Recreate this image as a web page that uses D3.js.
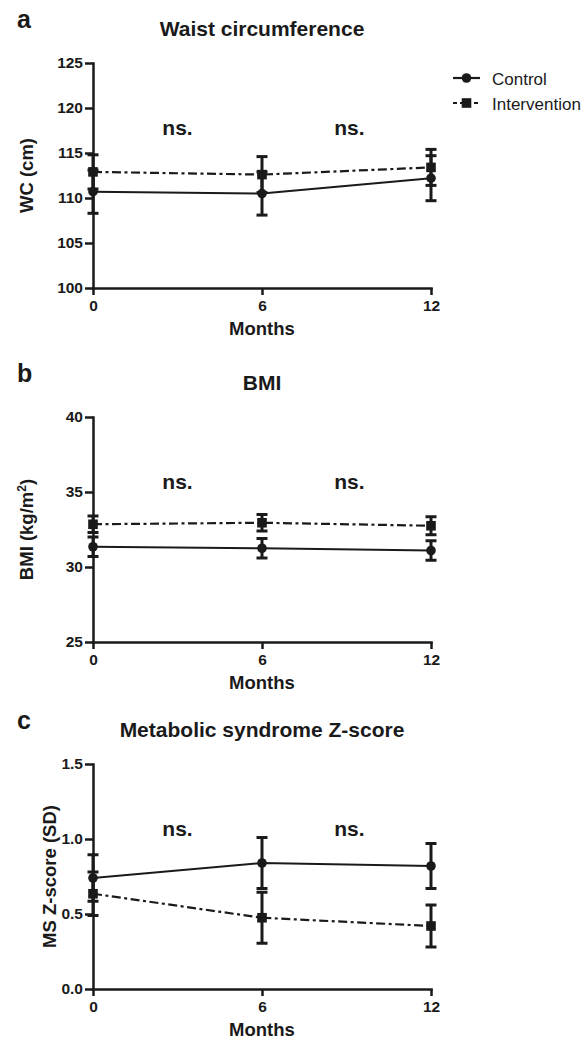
<!DOCTYPE html>
<html>
<head>
    <meta charset="utf-8" />
    <title>WC, BMI and MS Z-score</title>
    <script src="https://d3js.org/d3.v7.min.js"></script>
    <style>
        body { margin: 0; background: #fff; }
        text { font-family: "Liberation Sans", Arial, Helvetica, sans-serif; fill: #1a1a1a; }
        .axis path, .axis line { stroke: #1a1a1a; stroke-width: 2.5; }
    </style>
</head>
<body>
<script type="text/javascript">
    // data (mean and error half-width)
    var months = [0, 6, 12];
    var nsMonths = [3, 9.1];

    var panelLetters = ["a", "b", "c"];
    var panelTitles = ["Waist circumference", "BMI", "Metabolic syndrome Z-score"];
    var yLabels = ["WC (cm)", "BMI (kg/m", "MS Z-score (SD)"];
    var yDomains = [[100, 125], [25, 40], [0, 1.5]];
    var yTicks = [[100, 105, 110, 115, 120, 125], [25, 30, 35, 40], [0, 0.5, 1.0, 1.5]];
    var yFormats = ["d", "d", ".1f"];

    var wcControl = [110.7, 110.5, 112.2];
    var wcControlErr = [2.4, 2.4, 2.5];
    var wcIntervention = [112.9, 112.6, 113.4];
    var wcInterventionErr = [1.9, 2.0, 2.0];

    var bmiControl = [31.35, 31.25, 31.1];
    var bmiControlErr = [0.65, 0.65, 0.65];
    var bmiIntervention = [32.85, 32.95, 32.75];
    var bmiInterventionErr = [0.55, 0.55, 0.6];

    var msControl = [0.74, 0.84, 0.82];
    var msControlErr = [0.155, 0.17, 0.15];
    var msIntervention = [0.635, 0.475, 0.42];
    var msInterventionErr = [0.145, 0.17, 0.14];

    var seriesNames = ["Control", "Intervention"];

    var controls = [wcControl, bmiControl, msControl];
    var controlErrs = [wcControlErr, bmiControlErr, msControlErr];
    var interventions = [wcIntervention, bmiIntervention, msIntervention];
    var interventionErrs = [wcInterventionErr, bmiInterventionErr, msInterventionErr];

    var w = 585, h = 1040;
    var panelTop = [63, 417, 764];
    var panelH = 225;
    var ylabelX = [33, 33, 56];
    var dash = "9,3.5,3,3.5";

    var svg = d3.select("body").append("svg")
        .attr("width", w)
        .attr("height", h);

    var x = d3.scaleLinear().domain([0, 12]).range([93, 431]);

    function drawMarker(g, kind, cx, cy) {
        if (kind === 0) {
            g.append("circle").attr("cx", cx).attr("cy", cy).attr("r", 4.8).attr("fill", "#1a1a1a");
        } else {
            g.append("rect").attr("x", cx - 4.8).attr("y", cy - 4.8)
                .attr("width", 9.6).attr("height", 9.6).attr("fill", "#1a1a1a");
        }
    }

    function styleAxis(sel) {
        sel.attr("font-size", null).attr("font-family", null);
        sel.selectAll("text")
            .style("font-size", "15.5px")
            .style("font-weight", "bold")
            .attr("fill", "#1a1a1a");
    }

    panelTitles.forEach(function (title, p) {
        var top = panelTop[p];
        var y = d3.scaleLinear().domain(yDomains[p]).range([top + panelH, top]);
        var g = svg.append("g");

        // panel letter and title
        g.append("text").attr("x", 17).attr("y", top - 35)
            .style("font-size", "25px").style("font-weight", "bold")
            .text(panelLetters[p]);
        g.append("text").attr("x", x(6)).attr("y", top - 27)
            .attr("text-anchor", "middle")
            .style("font-size", "21px").style("font-weight", "bold")
            .text(title);

        // axes
        g.append("g").attr("class", "axis")
            .attr("transform", "translate(" + x(0) + ",0)")
            .call(d3.axisLeft(y).tickValues(yTicks[p]).tickFormat(d3.format(yFormats[p]))
                .tickSize(8).tickSizeOuter(0).tickPadding(2))
            .call(styleAxis);
        g.append("g").attr("class", "axis")
            .attr("transform", "translate(0," + (top + panelH) + ")")
            .call(d3.axisBottom(x).tickValues(months).tickFormat(d3.format("d"))
                .tickSize(7).tickSizeOuter(0).tickPadding(5))
            .call(styleAxis);
        g.selectAll(".axis .domain").attr("stroke-linecap", "square");

        // axis titles
        g.append("text").attr("x", x(6)).attr("y", top + panelH + 47)
            .attr("text-anchor", "middle")
            .style("font-size", "18.5px").style("font-weight", "bold")
            .text("Months");
        var yl = g.append("text")
            .attr("transform", "translate(" + ylabelX[p] + "," + (top + panelH / 2) + ") rotate(-90)")
            .attr("text-anchor", "middle")
            .style("font-size", "18.5px").style("font-weight", "bold")
            .text(yLabels[p]);
        if (p === 1) {
            yl.append("tspan").attr("dy", -7).style("font-size", "12px").text("2");
            yl.append("tspan").attr("dy", 7).text(")");
        }

        // ns. annotations
        nsMonths.forEach(function (m) {
            g.append("text").attr("x", x(m)).attr("y", top + 72)
                .attr("text-anchor", "middle")
                .style("font-size", "21px").style("font-weight", "bold")
                .text("ns.");
        });

        // series
        var sets = [[controls[p], controlErrs[p]], [interventions[p], interventionErrs[p]]];
        var line = d3.line().x(function (d, i) { return x(months[i]); }).y(function (d) { return y(d); });

        sets.forEach(function (s, k) {
            var vals = s[0], errs = s[1];
            g.append("path").datum(vals)
                .attr("d", line)
                .attr("fill", "none")
                .attr("stroke", "#1a1a1a")
                .attr("stroke-width", k === 0 ? 2 : 2.2)
                .attr("stroke-dasharray", k === 0 ? null : dash);

            vals.forEach(function (v, i) {
                var cx = x(months[i]);
                var lo = y(v - errs[i]), hi = y(v + errs[i]);
                g.append("line").attr("x1", cx).attr("x2", cx).attr("y1", lo).attr("y2", hi)
                    .attr("stroke", "#1a1a1a").attr("stroke-width", 3);
                [lo, hi].forEach(function (yy) {
                    g.append("line").attr("x1", cx - 5.5).attr("x2", cx + 5.5).attr("y1", yy).attr("y2", yy)
                        .attr("stroke", "#1a1a1a").attr("stroke-width", 3);
                });
                drawMarker(g, k, cx, y(v));
            });
        });
    });

    // legend
    var legY = [78, 103];
    var leg = svg.append("g");
    seriesNames.forEach(function (name, k) {
        leg.append("line").attr("x1", 453).attr("x2", 480).attr("y1", legY[k]).attr("y2", legY[k])
            .attr("stroke", "#1a1a1a").attr("stroke-width", 2.2)
            .attr("stroke-dasharray", k === 0 ? null : "4,3");
        drawMarker(leg, k, 466.5, legY[k]);
        leg.append("text").attr("x", 492).attr("y", legY[k] + 7)
            .style("font-size", "17px")
            .text(name);
    });
</script>
</body>
</html>
